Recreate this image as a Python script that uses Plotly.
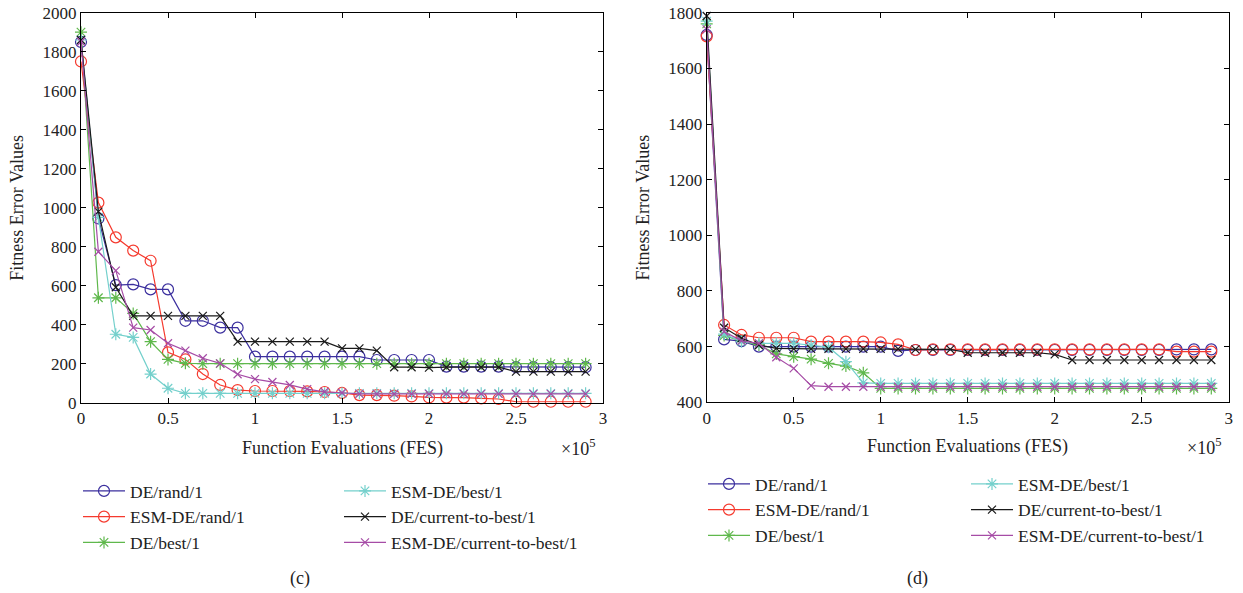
import plotly.graph_objects as go

W, H = 1243, 593

fes = [0.0, 0.1, 0.2, 0.3, 0.4, 0.5, 0.6, 0.7, 0.8, 0.9,
       1.0, 1.1, 1.2, 1.3, 1.4, 1.5, 1.6, 1.7, 1.8, 1.9,
       2.0, 2.1, 2.2, 2.3, 2.4, 2.5, 2.6, 2.7, 2.8, 2.9]

names = ["DE/rand/1", "ESM-DE/rand/1", "DE/best/1",
         "ESM-DE/best/1", "DE/current-to-best/1", "ESM-DE/current-to-best/1"]

# panel (c)
rand_c = [1850, 945, 603, 607, 581, 581, 420, 420, 385, 385,
          236, 236, 236, 236, 236, 236, 236, 219, 219, 219,
          219, 185, 185, 185, 185, 182, 182, 182, 182, 182]
esmrand_c = [1750, 1026, 848, 780, 728, 258, 222, 147, 91, 65,
             60, 60, 60, 58, 55, 50, 39, 39, 36, 32,
             27, 26, 26, 22, 19, 5, 5, 5, 5, 5]
best_c = [1900, 538, 538, 458, 313, 222, 202, 200, 200, 200,
          200, 200, 200, 200, 200, 200, 200, 200, 200, 200,
          200, 200, 200, 200, 200, 200, 200, 200, 200, 200]
esmbest_c = [1860, 950, 351, 335, 147, 74, 48, 48, 48, 48,
             48, 48, 48, 48, 48, 48, 48, 48, 48, 48,
             48, 48, 48, 48, 48, 48, 48, 48, 48, 48]
ctb_c = [1860, 980, 592, 445, 445, 445, 445, 445, 445, 313,
         313, 313, 313, 313, 313, 279, 279, 267, 182, 182,
         180, 182, 182, 182, 182, 159, 159, 159, 159, 159]
esmctb_c = [1851, 774, 677, 385, 373, 305, 267, 228, 202, 146,
            121, 106, 91, 70, 56, 51, 45, 45, 45, 45,
            45, 45, 45, 45, 45, 45, 45, 45, 45, 45]

# panel (d)
rand_d = [1720, 626, 620, 600, 600, 600, 600, 600, 600, 600,
          600, 585, 588, 588, 588, 588, 588, 588, 588, 588,
          588, 588, 588, 588, 588, 588, 588, 590, 590, 590]
esmrand_d = [1715, 678, 642, 632, 632, 632, 618, 618, 618, 618,
             615, 608, 588, 590, 590, 590, 590, 590, 590, 590,
             590, 590, 590, 590, 590, 590, 590, 582, 582, 582]
best_d = [1760, 640, 620, 606, 574, 564, 555, 540, 530, 506,
          450, 450, 450, 450, 450, 450, 450, 450, 450, 450,
          450, 450, 450, 450, 450, 450, 450, 450, 450, 450]
esmbest_d = [1770, 645, 618, 612, 612, 612, 605, 598, 546, 470,
             468, 468, 468, 468, 468, 468, 468, 468, 468, 468,
             468, 468, 468, 468, 468, 468, 468, 468, 468, 468]
ctb_d = [1788, 668, 630, 606, 594, 592, 592, 592, 592, 592,
         592, 592, 590, 590, 590, 578, 578, 578, 578, 578,
         572, 552, 552, 552, 552, 552, 552, 552, 552, 552]
esmctb_d = [1740, 654, 621, 612, 562, 522, 460, 456, 456, 456,
            456, 456, 456, 456, 456, 456, 456, 456, 456, 456,
            456, 456, 456, 456, 456, 456, 456, 456, 456, 456]

x_ticks = [0, 0.5, 1, 1.5, 2, 2.5, 3]
x_ticklabels = ["0", "0.5", "1", "1.5", "2", "2.5", "3"]

colors = ["#3b2f9e", "#f53a2e", "#5fb84c", "#74d0cc", "#1a1a1a", "#a64ca6"]
symbols = ["circle-open", "circle-open", "asterisk-open",
           "asterisk-open", "x-thin-open", "x-thin-open"]
sizes = [11, 11, 10, 10, 8, 8]

FONT = "Liberation Serif"

fig = go.Figure()

panels = [
    ([rand_c, esmrand_c, best_c, esmbest_c, ctb_c, esmctb_c], "x", "y", ["legend", "legend2"]),
    ([rand_d, esmrand_d, best_d, esmbest_d, ctb_d, esmctb_d], "x2", "y2", ["legend3", "legend4"]),
]
for series, xa, ya, lgs in panels:
    for i, ys in enumerate(series):
        fig.add_trace(go.Scatter(
            x=fes, y=ys, name=names[i], mode="lines+markers",
            xaxis=xa, yaxis=ya, legend=lgs[i // 3], legendrank=i + 1,
            cliponaxis=False,
            line=dict(color=colors[i], width=1.2),
            marker=dict(symbol=symbols[i], size=sizes[i], color=colors[i],
                        line=dict(color=colors[i], width=1.2)),
        ))

def px_x(p):
    return p / W

def px_y(p):
    return 1 - p / H

axis_common = dict(
    showline=True, linecolor="black", linewidth=1, mirror="ticks",
    ticks="inside", ticklen=5, tickcolor="black", tickwidth=1,
    showgrid=False, zeroline=False,
    tickfont=dict(family=FONT, size=17, color="#222"),
)

def legend_at(xp, yp):
    return dict(orientation="v", x=px_x(xp), y=px_y(yp), xanchor="left", yanchor="top",
                traceorder="normal", itemwidth=42,
                font=dict(family=FONT, size=17.5, color="#222"),
                bgcolor="rgba(0,0,0,0)", borderwidth=0,
                itemclick=False, itemdoubleclick=False)

fig.update_layout(
    width=W, height=H,
    margin=dict(l=0, r=0, t=0, b=0, autoexpand=False),
    paper_bgcolor="white", plot_bgcolor="white",
    font=dict(family=FONT, color="#222"),
    showlegend=True,
    xaxis=dict(domain=[px_x(81), px_x(603)], range=[0, 3], anchor="y",
               tickvals=x_ticks, ticktext=x_ticklabels, **axis_common),
    yaxis=dict(domain=[px_y(402.7), px_y(12.7)], range=[0, 2000], anchor="x",
               dtick=200, **axis_common),
    xaxis2=dict(domain=[px_x(706.7), px_x(1228.7)], range=[0, 3], anchor="y2",
                tickvals=x_ticks, ticktext=x_ticklabels, **axis_common),
    yaxis2=dict(domain=[px_y(402.3), px_y(12.7)], range=[400, 1800], anchor="x2",
                dtick=200, **axis_common),
    legend=legend_at(78, 473),
    legend2=legend_at(339, 473),
    legend3=legend_at(703, 466),
    legend4=legend_at(966, 466),
)

annos = [
    dict(text="Fitness Error Values", x=px_x(17), y=px_y(207.7), textangle=-90),
    dict(text="Fitness Error Values", x=px_x(643), y=px_y(207.5), textangle=-90),
    dict(text="Function Evaluations (FES)", x=px_x(342), y=px_y(448)),
    dict(text="Function Evaluations (FES)", x=px_x(967.7), y=px_y(446)),
    dict(text="×10<sup>5</sup>", x=px_x(578), y=px_y(447), size=18),
    dict(text="×10<sup>5</sup>", x=px_x(1204), y=px_y(446), size=18),
    dict(text="(c)", x=px_x(300), y=px_y(578)),
    dict(text="(d)", x=px_x(917), y=px_y(578)),
]
for a in annos:
    fig.add_annotation(
        text=a["text"], x=a["x"], y=a["y"], xref="paper", yref="paper",
        xanchor="center", yanchor="middle", showarrow=False,
        textangle=a.get("textangle", 0),
        font=dict(family=FONT, size=a.get("size", 18), color="#222"),
    )

fig.write_html("out.html")
